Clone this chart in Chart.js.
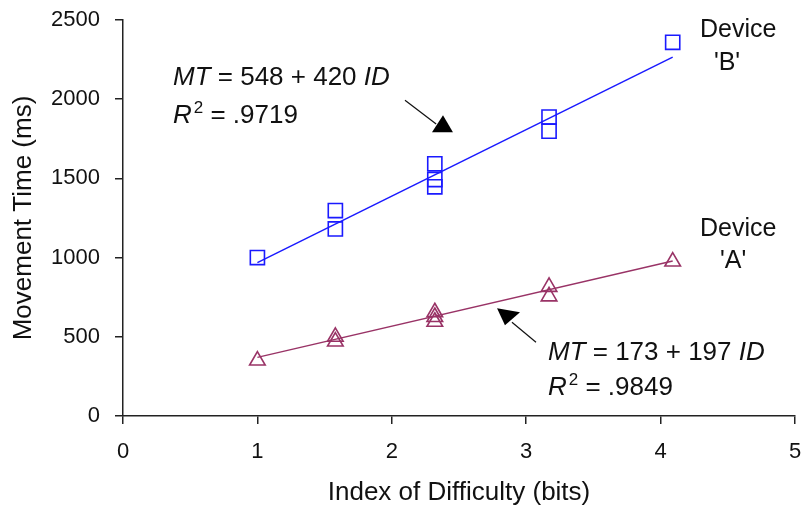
<!DOCTYPE html>
<html><head><meta charset="utf-8">
<script src="https://cdn.jsdelivr.net/npm/chart.js@4/dist/chart.umd.min.js"></script>
<style>html,body{margin:0;padding:0;background:#fff}#wrap{width:802px;height:506px;position:relative}</style>
</head><body><div id="wrap"><canvas id="c" width="802" height="506"></canvas></div>
<script>
// ---- data ----
const deviceBId = [1, 1.58, 1.58, 2.32, 2.32, 2.32, 3.17, 3.17, 4.09];
const deviceBMt = [1000, 1297, 1181, 1592, 1493, 1447, 1887, 1798, 2359];
const deviceAId = [1, 1.58, 1.58, 2.32, 2.32, 2.32, 3.17, 3.17, 4.09];
const deviceAMt = [350, 500, 470, 655, 625, 595, 815, 755, 975];
const fitBId = [1, 4.09];
const fitBMt = [968, 2266];
const fitAId = [1, 4.09];
const fitAMt = [370, 979];
const xTickValues = [0, 1, 2, 3, 4, 5];
const yTickValues = [0, 500, 1000, 1500, 2000, 2500];
const xTitle = 'Index of Difficulty (bits)';
const yTitle = 'Movement Time (ms)';
const eqB = {mt: '548 + 420', r2: '.9719'};
const eqA = {mt: '173 + 197', r2: '.9849'};

const FONT = "'Liberation Sans', Arial, Helvetica, sans-serif";
const BLUE = '#1a1aff';
const MAROON = '#993366';
const AXIS = '#222';

function pts(xs, ys) { return xs.map((x, i) => ({x: x, y: ys[i]})); }

// annotations positioned in data units
const notes = [
  {runs: [{t: 'MT', it: true}, {t: ' = ' + eqB.mt + ' '}, {t: 'ID', it: true}], x: 0.372, y: 2089, size: 26},
  {runs: [{t: 'R', it: true}, {t: '2', sup: true}, {t: ' = ' + eqB.r2}], x: 0.372, y: 1849, size: 26},
  {runs: [{t: 'MT', it: true}, {t: ' = ' + eqA.mt + ' '}, {t: 'ID', it: true}], x: 3.162, y: 352, size: 26},
  {runs: [{t: 'R', it: true}, {t: '2', sup: true}, {t: ' = ' + eqA.r2}], x: 3.162, y: 131, size: 26},
  {runs: [{t: 'Device'}], x: 4.293, y: 2392, size: 25},
  {runs: [{t: "'B'"}], x: 4.494, y: 2184, center: true, size: 25},
  {runs: [{t: 'Device'}], x: 4.293, y: 1136, size: 25},
  {runs: [{t: "'A'"}], x: 4.539, y: 933, center: true, size: 25}
];
const arrows = [
  {from: [2.098, 1994], to: [2.33, 1843], head: [[2.299, 1791], [2.455, 1791], [2.381, 1899]]},
  {from: [3.073, 466], to: [2.894, 592], head: [[2.783, 680], [2.954, 655], [2.842, 573]]}
];

const annotPlugin = {
  id: 'annot',
  afterDatasetsDraw(chart) {
    const ctx = chart.ctx, xs = chart.scales.x, ys = chart.scales.y;
    ctx.save();
    ctx.fillStyle = '#111';
    ctx.textBaseline = 'alphabetic';
    ctx.textAlign = 'left';
    notes.forEach(n => {
      const fontFor = r => (r.it ? 'italic ' : '') + (r.sup ? 17 : n.size) + 'px ' + FONT;
      let total = 0;
      n.runs.forEach(r => { ctx.font = fontFor(r); total += ctx.measureText(r.t).width + (r.sup ? 2 : 0); });
      let px = xs.getPixelForValue(n.x);
      const py = ys.getPixelForValue(n.y);
      if (n.center) px -= total / 2;
      n.runs.forEach(r => {
        ctx.font = fontFor(r);
        ctx.fillText(r.t, px + (r.sup ? 2 : 0), r.sup ? py - 10 : py);
        px += ctx.measureText(r.t).width + (r.sup ? 2 : 0);
      });
    });
    ctx.strokeStyle = '#111';
    ctx.lineWidth = 1.2;
    arrows.forEach(a => {
      ctx.beginPath();
      ctx.moveTo(xs.getPixelForValue(a.from[0]), ys.getPixelForValue(a.from[1]));
      ctx.lineTo(xs.getPixelForValue(a.to[0]), ys.getPixelForValue(a.to[1]));
      ctx.stroke();
      ctx.beginPath();
      a.head.forEach((p, i) => {
        const X = xs.getPixelForValue(p[0]), Y = ys.getPixelForValue(p[1]);
        if (i === 0) ctx.moveTo(X, Y); else ctx.lineTo(X, Y);
      });
      ctx.closePath();
      ctx.fillStyle = '#000';
      ctx.fill();
    });
    ctx.restore();
  }
};

new Chart(document.getElementById('c'), {
  type: 'scatter',
  data: {
    datasets: [
      {label: 'Fit B', data: pts(fitBId, fitBMt), showLine: true, borderColor: BLUE, borderWidth: 1.5, pointRadius: 0, fill: false},
      {label: 'Fit A', data: pts(fitAId, fitAMt), showLine: true, borderColor: MAROON, borderWidth: 1.5, pointRadius: 0, fill: false},
      {label: "Device 'B'", data: pts(deviceBId, deviceBMt), pointStyle: 'rect', pointRadius: 10, pointBorderWidth: 1.6,
       borderColor: BLUE, backgroundColor: 'rgba(0,0,0,0)', showLine: false},
      {label: "Device 'A'", data: pts(deviceAId, deviceAMt), pointStyle: 'triangle', pointRadius: 9, pointBorderWidth: 1.6,
       borderColor: MAROON, backgroundColor: 'rgba(0,0,0,0)', showLine: false}
    ]
  },
  options: {
    responsive: false,
    animation: false,
    devicePixelRatio: 1,
    events: [],
    layout: {autoPadding: false, padding: {left: 0, right: 7, top: 20, bottom: 0}},
    plugins: {legend: {display: false}, tooltip: {enabled: false}},
    scales: {
      x: {
        type: 'linear', min: 0, max: 5,
        afterBuildTicks: s => { s.ticks = xTickValues.map(v => ({value: v})); },
        afterFit: s => { s.height = 90; s.paddingLeft = 0; s.paddingRight = 0; },
        ticks: {font: {family: FONT, size: 22}, color: '#111', padding: 15, maxRotation: 0, callback: v => String(v)},
        grid: {drawOnChartArea: false, drawTicks: true, tickLength: 8, color: AXIS, lineWidth: 1.5},
        border: {display: true, color: AXIS, width: 1.5},
        title: {display: true, text: xTitle, color: '#111', font: {family: FONT, size: 26, lineHeight: 1}, padding: {top: 0, bottom: 0}}
      },
      y: {
        type: 'linear', min: 0, max: 2500,
        afterBuildTicks: s => { s.ticks = yTickValues.map(v => ({value: v})); },
        afterFit: s => { s.width = 123; s.paddingTop = 0; s.paddingBottom = 0; },
        ticks: {font: {family: FONT, size: 22}, color: '#111', padding: 15, callback: v => String(v)},
        grid: {drawOnChartArea: false, drawTicks: true, tickLength: 8, color: AXIS, lineWidth: 1.5},
        border: {display: true, color: AXIS, width: 1.5},
        title: {display: true, text: yTitle, color: '#111', font: {family: FONT, size: 26, lineHeight: 1}, padding: {top: 11, bottom: 0}}
      }
    }
  },
  plugins: [annotPlugin]
});
</script>
</body></html>
